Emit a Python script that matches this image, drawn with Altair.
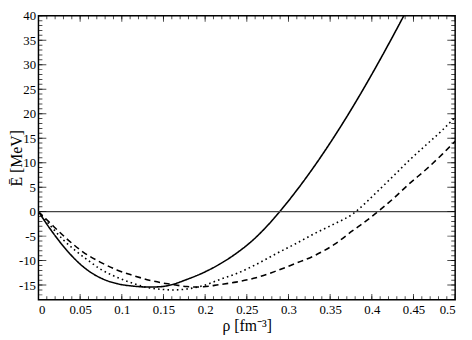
import altair as alt
import pandas as pd

# ---- curve data ----
solid_x = [0.000, 0.015, 0.035, 0.054, 0.074, 0.094, 0.113, 0.133, 0.145, 0.158, 0.178,
           0.198, 0.217, 0.237, 0.257, 0.276, 0.289, 0.308, 0.3275, 0.347, 0.3667, 0.3865,
           0.406, 0.4257, 0.4414, 0.450]
solid_y = [0.0, -3.76, -8.1, -11.3, -13.5, -14.7, -15.2, -15.4, -15.35, -15.0, -13.85,
           -12.45, -10.76, -8.56, -5.86, -2.63, -0.1, 3.93, 8.42, 13.26, 18.48, 24.06,
           29.85, 35.96, 40.98, 43.8]

dotted_x = [0.000, 0.015, 0.030, 0.044, 0.060, 0.074, 0.094, 0.113, 0.131, 0.150, 0.160, 0.178,
            0.198, 0.217, 0.237, 0.261, 0.284, 0.308, 0.331, 0.355, 0.377, 0.392, 0.406, 0.426,
            0.445, 0.465, 0.485, 0.500]
dotted_y = [0.0, -3.0, -5.8, -7.9, -10.0, -11.7, -13.4, -14.6, -15.5, -15.9, -16.0, -15.8,
            -15.1, -13.9, -12.7, -10.8, -8.7, -6.6, -4.5, -2.5, -0.5, 1.7, 4.0, 7.3,
            10.5, 13.6, 16.7, 19.3]

dashed_x = [0.000, 0.015, 0.035, 0.054, 0.074, 0.094, 0.113, 0.133, 0.150, 0.158, 0.178, 0.190,
            0.198, 0.217, 0.237, 0.261, 0.284, 0.308, 0.331, 0.355, 0.377, 0.386, 0.408, 0.426,
            0.445, 0.465, 0.485, 0.500]
dashed_y = [0.0, -2.5, -5.7, -8.3, -10.3, -11.9, -13.0, -14.0, -14.6, -14.8, -15.3, -15.4,
            -15.35, -14.9, -14.4, -13.5, -12.2, -10.6, -9.0, -6.7, -3.9, -2.8, 0.1, 2.7,
            5.7, 8.6, 11.8, 14.4]

# ---- axis tick values / labels ----
x_major = [0, 0.05, 0.1, 0.15, 0.2, 0.25, 0.3, 0.35, 0.4, 0.45, 0.5]
x_minor = [round(i * 0.01, 2) for i in range(0, 51)]
y_major = [-15, -10, -5, 0, 5, 10, 15, 20, 25, 30, 35, 40]
y_minor = list(range(-18, 41))
zero_line = [0]

X_DOMAIN = [0, 0.5]
Y_DOMAIN = [-18, 40]
W, H = 424, 289
FONT = "Liberation Serif"

curves = pd.concat([
    pd.DataFrame({"rho": solid_x, "E": solid_y, "curve": "solid"}),
    pd.DataFrame({"rho": dotted_x, "E": dotted_y, "curve": "dotted"}),
    pd.DataFrame({"rho": dashed_x, "E": dashed_y, "curve": "dashed"}),
], ignore_index=True)

xs = alt.Scale(domain=X_DOMAIN, nice=False, zero=False)
ys = alt.Scale(domain=Y_DOMAIN, nice=False, zero=False)

xticks = pd.concat([
    pd.DataFrame({"v": x_minor, "s": 7}),
    pd.DataFrame({"v": x_major, "s": 12}),
], ignore_index=True)
yticks = pd.concat([
    pd.DataFrame({"v": y_minor, "s": 8}),
    pd.DataFrame({"v": y_major, "s": 16}),
], ignore_index=True)

x_axis = alt.Axis(values=x_major, labelExpr="'' + datum.value", ticks=False,
                  domain=False, grid=False, labelPadding=4, labelFont=FONT,
                  labelFontSize=13, labelColor="black", title="ρ [fm⁻³]",
                  titleFont=FONT, titleFontSize=16, titleFontWeight="normal",
                  titleColor="black", titleY=31, titleBaseline="alphabetic")
y_axis = alt.Axis(values=y_major, labelExpr="'' + datum.value", ticks=False,
                  domain=False, grid=False, labelPadding=3, labelFont=FONT,
                  labelFontSize=13, labelColor="black", title="Ē [MeV]",
                  titleFont=FONT, titleFontSize=16, titleFontWeight="normal",
                  titleColor="black", titleX=-17, titleBaseline="alphabetic")

lines = alt.Chart(curves).mark_line(clip=True, color="black", strokeWidth=1.6,
                                    interpolate="monotone").encode(
    x=alt.X("rho:Q", scale=xs, axis=x_axis),
    y=alt.Y("E:Q", scale=ys, axis=y_axis),
    strokeDash=alt.StrokeDash("curve:N",
                              scale=alt.Scale(domain=["solid", "dotted", "dashed"],
                                              range=[[1, 0], [1.6, 3.2], [6, 4]]),
                              legend=None),
    detail="curve:N",
)

zero = alt.Chart(pd.DataFrame({"z": zero_line})).mark_rule(color="#444", strokeWidth=1.5).encode(
    y=alt.Y("z:Q", scale=ys, axis=y_axis)
)

tick_bottom = alt.Chart(xticks).mark_tick(clip=True, color="black", thickness=1).encode(
    x=alt.X("v:Q", scale=xs, axis=x_axis), y=alt.value(H),
    size=alt.Size("s:Q", scale=None, legend=None))
tick_top = alt.Chart(xticks).mark_tick(clip=True, color="black", thickness=1).encode(
    x=alt.X("v:Q", scale=xs, axis=x_axis), y=alt.value(0),
    size=alt.Size("s:Q", scale=None, legend=None))
tick_left = alt.Chart(yticks).mark_tick(clip=True, color="black", thickness=1).encode(
    y=alt.Y("v:Q", scale=ys, axis=y_axis), x=alt.value(0),
    size=alt.Size("s:Q", scale=None, legend=None))
tick_right = alt.Chart(yticks).mark_tick(clip=True, color="black", thickness=1).encode(
    y=alt.Y("v:Q", scale=ys, axis=y_axis), x=alt.value(W),
    size=alt.Size("s:Q", scale=None, legend=None))

chart = alt.layer(lines, zero, tick_bottom, tick_top, tick_left, tick_right).properties(
    width=W, height=H,
    autosize=alt.AutoSizeParams(type="none"),
    padding={"left": 31, "top": 5, "right": 9, "bottom": 36},
    background="white",
).configure(font=FONT).configure_view(stroke="black", strokeWidth=1.5)

chart.save("out.html", embed_options={"renderer": "svg", "actions": False})
